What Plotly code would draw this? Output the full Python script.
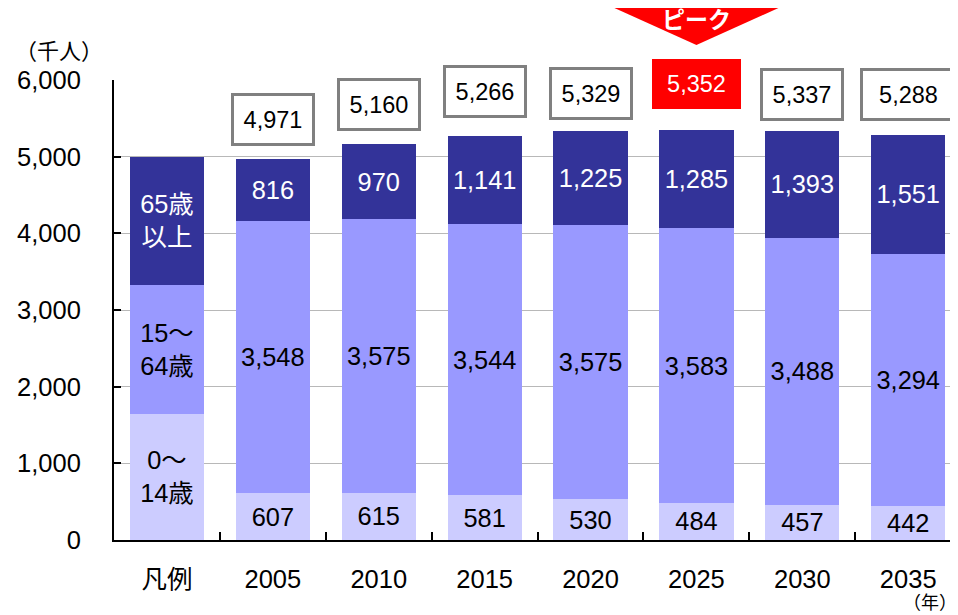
import plotly.graph_objects as go

# ---- data ----
categories = ["凡例", "2005", "2010", "2015", "2020", "2025", "2030", "2035"]
legend_vals = [1650, 1680, 1670]          # schematic legend bar (0-14, 15-64, 65+)
age_0_14 = [607, 615, 581, 530, 484, 457, 442]
age_15_64 = [3548, 3575, 3544, 3575, 3583, 3488, 3294]
age_65_plus = [816, 970, 1141, 1225, 1285, 1393, 1551]
totals = [4971, 5160, 5266, 5329, 5352, 5337, 5288]
legend_labels = ["0～<br>14歳", "15～<br>64歳", "65歳<br>以上"]
peak_label = "ピーク"
peak_year = "2025"

# ---- style ----
FONT = "Liberation Sans, Arial, Noto Sans CJK JP, sans-serif"
COLORS = ["#CCCCFF", "#9999FF", "#333399"]
TEXT_COLORS = ["black", "black", "white"]
OFF = 8                      # page body margin in the browser
W, H = 958 - OFF, 615 - OFF
# plot area in screen pixels
SX0, SX1, SY0, SY1 = 114, 958, 80, 540
ML, MR, MT, MB = SX0 - OFF, (W + OFF) - SX1, SY0 - OFF, (H + OFF) - SY1
PW, PH = SX1 - SX0, SY1 - SY0
XR = [-0.5, 7.47]
# box centre heights (data units) for the total labels
box_y = [5491, 5687, 5850, 5824, 5948, 5817, 5817]

series = [age_0_14, age_15_64, age_65_plus]

fig = go.Figure()
for i, vals in enumerate(series):
    yv = [legend_vals[i]] + vals
    txt = [legend_labels[i]] + [f"{v:,}" for v in vals]
    fig.add_bar(
        x=categories, y=yv, text=txt,
        marker=dict(color=COLORS[i], line=dict(width=0)),
        textposition="inside", insidetextanchor="middle", textangle=0,
        textfont=dict(color=TEXT_COLORS[i], size=25.5, family=FONT),
        hoverinfo="skip", showlegend=False,
    )

annotations = []
for j, (cat, tot) in enumerate(zip(categories[1:], totals)):
    xi = categories.index(cat)
    if cat == peak_year:
        annotations.append(dict(
            x=xi, y=box_y[j], xref="x", yref="y", text=f"{tot:,}", showarrow=False,
            xanchor="center", yanchor="middle",
            font=dict(size=23.5, color="white", family=FONT),
            bgcolor="#FF0000", bordercolor="#FF0000", borderwidth=0, borderpad=0,
            width=89, height=50, align="center", valign="middle",
        ))
    else:
        annotations.append(dict(
            x=xi, y=box_y[j], xref="x", yref="y", text=f"{tot:,}", showarrow=False,
            xanchor="center", yanchor="middle",
            font=dict(size=23.5, color="black", family=FONT),
            bgcolor="white", bordercolor="#808080", borderwidth=3, borderpad=0,
            width=78 if cat != "2035" else 91, height=47, align="center", valign="middle",
        ))


def px_x(p):
    return (p - SX0) / PW


def px_y(p):
    return (SY1 - p) / PH


annotations.append(dict(x=px_x(59), y=px_y(52), xref="paper", yref="paper",
                        xanchor="center", yanchor="middle",
                        text="（千人）", showarrow=False,
                        font=dict(size=22, color="black", family=FONT)))
annotations.append(dict(x=px_x(930), y=px_y(603), xref="paper", yref="paper",
                        xanchor="center", yanchor="middle",
                        text="（年）", showarrow=False,
                        font=dict(size=18, color="black", family=FONT)))

# peak marker (triangle) centred on the peak category
pi = categories.index(peak_year)
xc = (pi - XR[0]) / (XR[1] - XR[0])
half = 82 / PW
ytop, yapex = px_y(8), px_y(45)
shapes = [dict(type="path", xref="paper", yref="paper",
               path=f"M {xc-half},{ytop} L {xc+half},{ytop} L {xc},{yapex} Z",
               fillcolor="#FF0000", line=dict(width=0), layer="above")]
annotations.append(dict(x=xc, y=px_y(20), xref="paper", yref="paper",
                        xanchor="center", yanchor="middle",
                        text=f"<b>{peak_label}</b>", showarrow=False,
                        font=dict(size=23, color="white", family=FONT)))

fig.update_layout(
    width=W, height=H,
    margin=dict(l=ML, r=MR, t=MT, b=MB, autoexpand=False),
    barmode="stack", bargap=0.30,
    plot_bgcolor="white", paper_bgcolor="white",
    font=dict(family=FONT, size=25, color="black"),
    uniformtext=dict(minsize=22, mode="show"),
    annotations=annotations, shapes=shapes,
    xaxis=dict(type="category", range=XR, showline=True, linecolor="black", linewidth=2,
               ticks="inside", tickson="boundaries", ticklen=8, tickwidth=2, tickcolor="black",
               showgrid=False, tickfont=dict(size=25.5, family=FONT), ticklabelstandoff=15,
               automargin=False),
    yaxis=dict(range=[0, 6000], tickvals=[0, 1000, 2000, 3000, 4000, 5000, 6000],
               tickformat=",d", showline=True, linecolor="black", linewidth=2,
               ticks="inside", ticklen=7, tickwidth=2, tickcolor="black",
               showgrid=True, gridcolor="#B8B8B8", gridwidth=1, zeroline=False,
               tickfont=dict(size=25.5, family=FONT), ticklabelstandoff=26,
               automargin=False),
)

fig.write_html("out.html")
